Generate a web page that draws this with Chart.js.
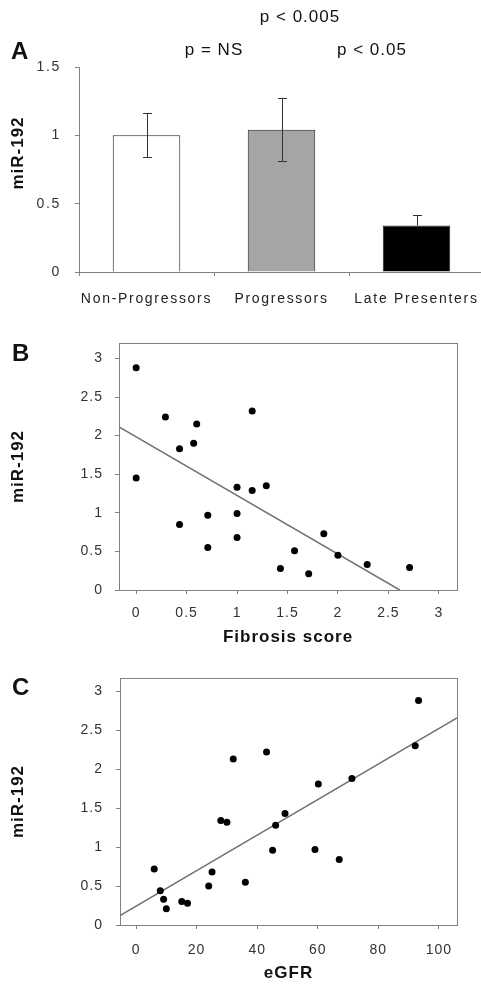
<!DOCTYPE html>
<html>
<head>
<meta charset="utf-8">
<script src="https://cdn.jsdelivr.net/npm/chart.js@4.4.1/dist/chart.umd.min.js"></script>
<style>
  html, body { margin: 0; padding: 0; background: #fff; overflow: hidden; }
  body { width: 481px; height: 985px; position: relative; }
  .panel { position: absolute; left: 0; }
  #panelA { top: 0; width: 486px; height: 310px; }
  #panelB { top: 300px; width: 481px; height: 355px; }
  #panelC { top: 655px; width: 481px; height: 330px; }
</style>
</head>
<body>
<div class="panel" id="panelA"><canvas id="chartA"></canvas></div>
<div class="panel" id="panelB"><canvas id="chartB"></canvas></div>
<div class="panel" id="panelC"><canvas id="chartC"></canvas></div>
<script>
// Panel A: miR-192 per group (mean, error bar)
const groups = ['Non-Progressors', 'Progressors', 'Late Presenters'];
const groupMeans = [1.0, 1.04, 0.34];
const groupErr = [0.16, 0.23, 0.08];
const groupColors = ['#ffffff', '#a5a5a5', '#000000'];
const pValues = ['p = NS', 'p < 0.05', 'p < 0.005'];
const yTicksA = [0, 0.5, 1, 1.5];

// Panel B: fibrosis score vs miR-192
const fibrosisScore = [0, 0, 0.29, 0.43, 0.43, 0.6, 0.57, 0.71, 0.71, 1.0, 1.0, 1.0, 1.15, 1.15, 1.29, 1.43, 1.57, 1.71, 1.86, 2.0, 2.29, 2.71];
const mirB = [2.88, 1.45, 2.24, 1.83, 0.85, 2.15, 1.9, 0.97, 0.55, 1.33, 0.99, 0.68, 2.32, 1.29, 1.35, 0.28, 0.51, 0.21, 0.73, 0.45, 0.33, 0.29];
const fitB = [1.985, -0.76];   // intercept, slope
const xTicksB = [0, 0.5, 1, 1.5, 2, 2.5, 3];

// Panel C: eGFR vs miR-192
const egfr = [6, 8, 9.1, 10, 15.1, 17, 24, 25.1, 28, 30, 32.1, 36.1, 43.1, 45.1, 46.1, 49.2, 59.1, 60.2, 67.1, 71.3, 92.2, 93.3];
const mirC = [0.72, 0.44, 0.33, 0.21, 0.30, 0.28, 0.5, 0.68, 1.34, 1.32, 2.13, 0.55, 2.22, 0.96, 1.28, 1.43, 0.97, 1.81, 0.84, 1.88, 2.30, 2.88];
const fitC = [0.24, 0.0228];
const xTicksC = [0, 20, 40, 60, 80, 100];

const yTicksScatter = [0, 0.5, 1, 1.5, 2, 2.5, 3];

Chart.defaults.font.family = '"Liberation Sans", Arial, sans-serif';
Chart.defaults.font.size = 14;
Chart.defaults.color = '#333';

const axisGray = '#808080';
const titleFont = 'bold 17px "Liberation Sans", Arial, sans-serif';
const letterFont = 'bold 24px "Liberation Sans", Arial, sans-serif';
const pFont = '17px "Liberation Sans", Arial, sans-serif';
const plainNumber = v => String(v);

// free text (panel letters, p values) + letter spacing for the whole chart
const panelText = {
    id: 'panelText',
    beforeDraw(chart, args, opts) {
        chart.ctx.letterSpacing = (opts.spacing || 0) + 'px';
    },
    afterDraw(chart, args, opts) {
        const ctx = chart.ctx;
        (opts.items || []).forEach(it => {
            ctx.save();
            ctx.font = it.font;
            ctx.fillStyle = '#111';
            ctx.textAlign = it.align || 'center';
            ctx.textBaseline = 'middle';
            ctx.letterSpacing = '1px';
            ctx.translate(it.x, it.y);
            if (it.rotate) ctx.rotate(it.rotate);
            ctx.fillText(it.text, 0, 0);
            ctx.restore();
        });
    }
};

// error bars on top of the bars (lower whisker hidden inside dark bars)
const errorBars = {
    id: 'errorBars',
    afterDatasetsDraw(chart) {
        const ctx = chart.ctx;
        const yScale = chart.scales.y;
        const meta = chart.getDatasetMeta(0);
        ctx.save();
        ctx.strokeStyle = '#333';
        ctx.lineWidth = 1;
        meta.data.forEach((bar, i) => {
            const top = Math.round(yScale.getPixelForValue(groupMeans[i] + groupErr[i])) + 0.5;
            const bot = Math.round(yScale.getPixelForValue(groupMeans[i] - groupErr[i])) + 0.5;
            const x = Math.round(bar.x) + 0.5;
            const dark = groupColors[i] === '#000000';
            ctx.beginPath();
            ctx.moveTo(x, top); ctx.lineTo(x, dark ? bar.y : bot);
            ctx.moveTo(x - 4.5, top); ctx.lineTo(x + 4.5, top);
            if (!dark) { ctx.moveTo(x - 4.5, bot); ctx.lineTo(x + 4.5, bot); }
            ctx.stroke();
        });
        ctx.restore();
    }
};

// frame around the scatter plot area
const plotBox = {
    id: 'plotBox',
    beforeDatasetsDraw(chart) {
        const {ctx, chartArea: a} = chart;
        ctx.save();
        ctx.strokeStyle = axisGray;
        ctx.lineWidth = 1;
        ctx.strokeRect(Math.round(a.left) + 0.5, Math.round(a.top) + 0.5, Math.round(a.right - a.left), Math.round(a.bottom - a.top));
        ctx.restore();
    }
};

function setTicks(list) {
    return scale => { scale.ticks = list.map(v => ({ value: v })); };
}

// ---- Panel A ----
new Chart(document.getElementById('chartA'), {
    type: 'bar',
    data: {
        labels: groups,
        datasets: [{
            data: groupMeans,
            backgroundColor: groupColors,
            borderColor: '#222',
            borderWidth: 1,
            barPercentage: 0.5,
            categoryPercentage: 1
        }]
    },
    options: {
        responsive: true,
        maintainAspectRatio: false,
        animation: false,
        layout: { padding: { top: 67, right: 2, left: 0, bottom: 0 } },
        plugins: {
            legend: { display: false },
            tooltip: { enabled: false },
            panelText: {
                spacing: 1.7,
                items: [
                    { text: 'A', x: 11, y: 52, font: letterFont, align: 'left' },
                    { text: 'miR-192', x: 18, y: 153, font: titleFont, rotate: -Math.PI / 2 },
                    { text: pValues[0], x: 214, y: 50, font: pFont },
                    { text: pValues[1], x: 372, y: 50, font: pFont },
                    { text: pValues[2], x: 300, y: 17, font: pFont }
                ]
            }
        },
        scales: {
            x: {
                grid: { drawOnChartArea: false, drawTicks: true, tickLength: 4, color: axisGray, offset: true },
                border: { color: axisGray },
                ticks: { padding: 15, color: '#222' },
                afterFit: s => { s.height = 38; }
            },
            y: {
                min: 0, max: 1.5,
                afterBuildTicks: setTicks(yTicksA),
                grid: { drawOnChartArea: false, tickLength: 4, color: axisGray },
                border: { color: axisGray },
                ticks: { padding: 14, color: '#333', callback: plainNumber },
                afterFit: s => { s.width = 79; }
            }
        }
    },
    plugins: [errorBars, panelText]
});

// ---- scatter panels ----
function scatterPanel(id, xs, ys, fit, xMin, xMax, xTicks, xTitle, letter, opts) {
    const points = xs.map((x, i) => ({ x: x, y: ys[i] }));
    const xEnd = fit[1] < 0 ? Math.min(xMax, -fit[0] / fit[1]) : xMax;
    const fitLine = [xMin, xEnd].map(x => ({ x: x, y: fit[0] + fit[1] * x }));
    return new Chart(document.getElementById(id), {
        type: 'scatter',
        data: {
            datasets: [{
                data: points,
                pointRadius: 3.5,
                pointBackgroundColor: '#000',
                pointBorderWidth: 0,
                order: 1
            }, {
                type: 'line',
                data: fitLine,
                borderColor: '#707070',
                borderWidth: 1.5,
                pointRadius: 0,
                fill: false,
                order: 2
            }]
        },
        options: {
            responsive: true,
            maintainAspectRatio: false,
            animation: false,
            layout: { padding: { top: opts.top, right: 24, left: 0, bottom: 0 } },
            plugins: {
                legend: { display: false },
                tooltip: { enabled: false },
                panelText: {
                    spacing: 1,
                    items: [{ text: letter, x: 12, y: opts.letterY, font: letterFont, align: 'left' }]
                }
            },
            scales: {
                x: {
                    type: 'linear',
                    min: xMin, max: xMax,
                    afterBuildTicks: setTicks(xTicks),
                    grid: { drawOnChartArea: false, tickLength: 4, color: axisGray },
                    border: { color: axisGray },
                    ticks: { padding: opts.xPad, color: '#333', callback: plainNumber },
                    title: {
                        display: true, text: xTitle, color: '#111',
                        font: { size: 17, weight: 'bold' },
                        padding: { top: 0, bottom: opts.titlePad }
                    },
                    afterFit: s => { s.height = opts.xHeight; }
                },
                y: {
                    min: 0, max: opts.yMax,
                    afterBuildTicks: setTicks(yTicksScatter),
                    grid: { drawOnChartArea: false, tickLength: 4, color: axisGray },
                    border: { color: axisGray },
                    ticks: { padding: opts.yPad, color: '#333', callback: plainNumber },
                    title: {
                        display: true, text: 'miR-192', color: '#111',
                        font: { size: 17, weight: 'bold' },
                        padding: { top: 8, bottom: 0 }
                    },
                    afterFit: s => { s.width = opts.yWidth; }
                }
            }
        },
        plugins: [plotBox, panelText]
    });
}

scatterPanel('chartB', fibrosisScore, mirB, fitB, -0.17, 3.18, xTicksB, 'Fibrosis score', 'B',
    { top: 43, xHeight: 65, yWidth: 119, yMax: 3.2, xPad: 11, yPad: 12, titlePad: 7, letterY: 54 });

scatterPanel('chartC', egfr, mirC, fitC, -5.3, 106, xTicksC, 'eGFR', 'C',
    { top: 23, xHeight: 60, yWidth: 120, yMax: 3.17, xPad: 13, yPad: 13, titlePad: 1, letterY: 33 });
</script>
</body>
</html>
